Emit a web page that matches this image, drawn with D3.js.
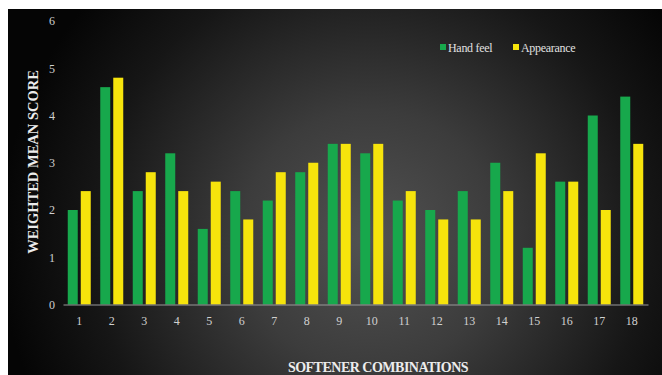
<!DOCTYPE html>
<html><head><meta charset="utf-8">
<script src="https://cdn.jsdelivr.net/npm/d3@7/dist/d3.min.js"></script>
<style>html,body{margin:0;padding:0;background:#fff;}svg{display:block;}</style>
</head><body>
<script>
const categories = ["1","2","3","4","5","6","7","8","9","10","11","12","13","14","15","16","17","18"];
const handFeel   = [2.0,4.6,2.4,3.2,1.6,2.4,2.2,2.8,3.4,3.2,2.2,2.0,2.4,3.0,1.2,2.6,4.0,4.4];
const appearance = [2.4,4.8,2.8,2.4,2.6,1.8,2.8,3.0,3.4,3.4,2.4,1.8,1.8,2.4,3.2,2.6,2.0,3.4];
const seriesNames = ["Hand feel","Appearance"];
const yTicks = [0,1,2,3,4,5,6];

const W = 662, H = 375;
const svg = d3.select("body").append("svg").attr("width", W).attr("height", H);
const defs = svg.append("defs");
const grad = defs.append("radialGradient").attr("id","bg")
  .attr("gradientUnits","userSpaceOnUse").attr("cx",370).attr("cy",240).attr("r",370);
grad.append("stop").attr("offset","0%").attr("stop-color","#525252");
grad.append("stop").attr("offset","35%").attr("stop-color","#3c3c3c");
grad.append("stop").attr("offset","75%").attr("stop-color","#161616");
grad.append("stop").attr("offset","100%").attr("stop-color","#050505");
svg.append("rect").attr("x",8).attr("y",9).attr("width",W-8).attr("height",H-9).attr("fill","url(#bg)");

const x0 = d3.scaleBand().domain(categories).range([63,648]).paddingInner(0).paddingOuter(0);
const y = d3.scaleLinear().domain([0,6]).range([304.5,21]);
const barW = 10, gap = 3;
const colors = ["#17a84c","#f6e40c"];

const g = svg.append("g");
[handFeel, appearance].forEach((vals, si) => {
  g.selectAll(".s"+si).data(vals).enter().append("rect")
    .attr("x", (d,i) => x0(categories[i]) + x0.bandwidth()/2 - (barW + gap/2) + si*(barW+gap))
    .attr("y", d => y(d))
    .attr("width", barW)
    .attr("height", d => y(0) - y(d))
    .attr("fill", colors[si]);
});

// x axis
const xAxis = svg.append("g").attr("transform",`translate(0,${y(0)})`)
  .call(d3.axisBottom(x0).tickSize(0).tickPadding(12));
xAxis.select(".domain").attr("stroke","#9a9a9a").attr("stroke-width",1.2);
xAxis.selectAll("text").attr("fill","#d0d0d0").attr("font-family","Liberation Serif").attr("font-size",12);

// y axis
const yAxis = svg.append("g").attr("transform","translate(55,0)")
  .call(d3.axisLeft(y).tickValues(yTicks).tickSize(0).tickPadding(0).tickFormat(d3.format("d")));
yAxis.select(".domain").remove();
yAxis.selectAll("text").attr("fill","#d0d0d0").attr("font-family","Liberation Serif").attr("font-size",12);

// axis titles
svg.append("text").attr("transform","translate(38,162) rotate(-90)")
  .attr("text-anchor","middle").attr("fill","#ececec")
  .attr("font-family","Liberation Serif").attr("font-weight","bold").attr("font-size",14.5)
  .text("WEIGHTED MEAN SCORE");
svg.append("text").attr("x",378).attr("y",372)
  .attr("text-anchor","middle").attr("fill","#ececec")
  .attr("font-family","Liberation Serif").attr("font-weight","bold").attr("font-size",14)
  .attr("letter-spacing",-0.5)
  .text("SOFTENER COMBINATIONS");

// legend
const leg = svg.append("g");
const legItems = [{x:443, name:seriesNames[0], c:colors[0]},{x:516, name:seriesNames[1], c:colors[1]}];
legItems.forEach(it => {
  leg.append("rect").attr("x",it.x-3).attr("y",44).attr("width",6).attr("height",6).attr("fill",it.c);
  leg.append("text").attr("x",it.x+5).attr("y",51.5).attr("fill","#e0e0e0")
    .attr("font-family","Liberation Serif").attr("font-size",12).attr("letter-spacing",-0.3).text(it.name);
});
</script>
</body></html>
